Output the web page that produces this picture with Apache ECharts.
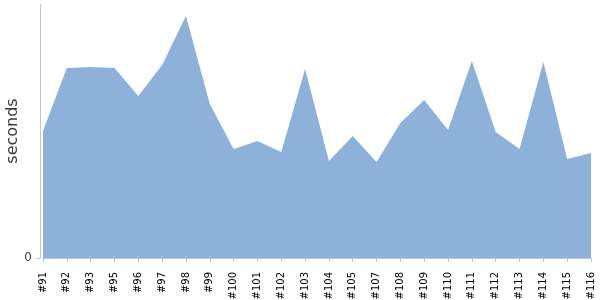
<!DOCTYPE html>
<html>
<head>
<meta charset="utf-8">
<script src="https://cdn.jsdelivr.net/npm/echarts@6/dist/echarts.min.js"></script>
<style>html,body{margin:0;padding:0;background:#fff}#c{width:600px;height:300px}</style>
</head>
<body>
<div id="c"></div>
<script>
var categories = ['#91','#92','#93','#95','#96','#97','#98','#99','#100','#101','#102','#103','#104','#105','#107','#108','#109','#110','#111','#112','#113','#114','#115','#116'];
var seconds = [127,190,191,190,162,193,242,154,109,117,106,189,97,122,96,135,158,128,197,126,109,196,99,105];
var yMax = 254;
var yTicks = [0];

var chart = echarts.init(document.getElementById('c'), null, {renderer: 'canvas'});
chart.setOption({
  animation: false,
  grid: {left: 43, right: 9, top: 4, bottom: 42, containLabel: false, outerBoundsMode: 'none'},
  xAxis: {
    type: 'category',
    data: categories,
    boundaryGap: false,
    offset: 5,
    axisLine: {show: true, lineStyle: {color: '#c4c4c4', width: 1}},
    axisTick: {show: true, length: 4, alignWithLabel: true, lineStyle: {color: '#c4c4c4'}},
    axisLabel: {rotate: 90, interval: 0, margin: 9, fontFamily: 'DejaVu Sans', fontSize: 10, color: '#000'},
    splitLine: {show: false}
  },
  yAxis: {
    type: 'value',
    min: 0,
    max: yMax,
    offset: 3,
    name: 'seconds',
    nameLocation: 'middle',
    nameGap: 19,
    nameMoveOverlap: false,
    nameTextStyle: {fontFamily: 'DejaVu Sans', fontSize: 16, color: '#3a3a3a'},
    axisLine: {show: true, lineStyle: {color: '#c4c4c4', width: 1}},
    axisTick: {show: true, length: 4, customValues: yTicks, lineStyle: {color: '#c4c4c4'}},
    axisLabel: {customValues: yTicks, margin: 8, fontFamily: 'DejaVu Sans', fontSize: 12, color: '#444'},
    splitLine: {show: false}
  },
  series: [{
    type: 'line',
    data: seconds,
    symbol: 'none',
    lineStyle: {width: 0},
    areaStyle: {color: '#8eb1da', opacity: 1}
  }]
});
</script>
</body>
</html>
